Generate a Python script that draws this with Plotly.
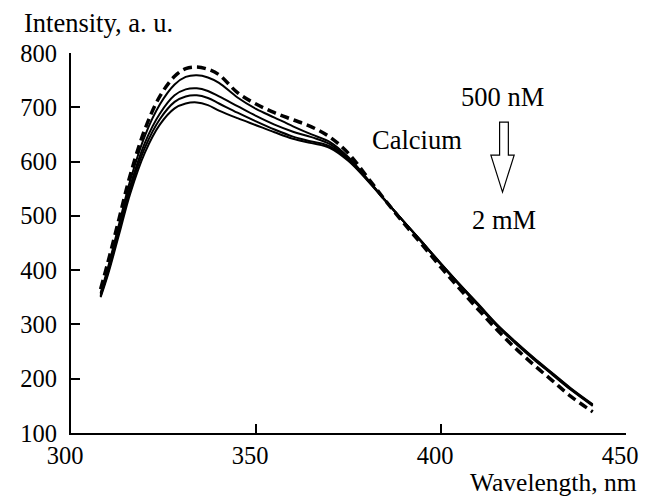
import plotly.graph_objects as go

wavelength = [308, 310, 313, 316, 320, 324, 328, 331, 334, 337, 340, 345, 350, 355, 360, 365,
              370, 375, 380, 385, 390, 395, 400, 405, 410, 415, 420, 425, 430, 435, 441]

control_dashed = [365, 415, 495, 575, 660, 720, 757, 771, 774, 770, 760, 727, 706, 690, 677, 664,
                  645, 615, 572, 528, 486, 446, 405, 366, 328, 291, 257, 226, 197, 168, 139]
ca_1 = [358, 405, 485, 565, 648, 705, 742, 756, 759, 755, 745, 718, 697, 681, 665, 650,
        636, 608, 569, 528, 489, 450, 410, 372, 335, 298, 266, 236, 208, 180, 150]
ca_2 = [355, 400, 478, 555, 635, 688, 722, 733, 735, 730, 720, 702, 684, 668, 655, 645,
        632, 605, 568, 528, 489, 450, 411, 373, 336, 299, 267, 237, 209, 181, 151]
ca_3 = [352, 396, 472, 548, 626, 678, 710, 720, 722, 717, 707, 690, 674, 659, 646, 637,
        628, 603, 567, 528, 489, 451, 412, 374, 337, 300, 268, 238, 210, 182, 152]
ca_4 = [350, 392, 466, 541, 617, 668, 698, 707, 709, 704, 694, 680, 667, 654, 642, 634,
        625, 601, 566, 527, 489, 451, 412, 374, 338, 301, 269, 239, 211, 183, 153]

x_ticks = [300, 350, 400, 450]
y_ticks = [100, 200, 300, 400, 500, 600, 700, 800]

FONT = "Liberation Serif, Times New Roman, serif"

fig = go.Figure()
for ys in [ca_1, ca_2, ca_3, ca_4]:
    fig.add_trace(go.Scatter(x=wavelength, y=ys, mode="lines", line=dict(color="black", width=2, shape="spline"),
                             showlegend=False, hoverinfo="skip"))
fig.add_trace(go.Scatter(x=wavelength, y=control_dashed, mode="lines",
                         line=dict(color="black", width=3.5, dash="9px,5px", shape="spline"),
                         showlegend=False, hoverinfo="skip"))

# page pixel -> data / paper helpers (plot area: x 61..632, y 53..433 on the page)
def px_x(p):
    return 300 + (p - 61) / 3.807

def px_y(p):
    return 100 + (433 - p) / 0.543

def pp_x(p):
    return (p - 61) / 571

def pp_y(p):
    return (433 - p) / 380

arrow_pts = [(502, 122), (511, 122), (511, 155), (517, 155), (505, 192), (493, 155), (502, 155)]
path = "M " + " L ".join(f"{px_x(a):.3f},{px_y(b):.3f}" for a, b in arrow_pts) + " Z"
fig.add_shape(type="path", path=path, xref="x", yref="y", line=dict(color="black", width=1.2),
              fillcolor="white")

fig.add_annotation(x=px_x(505), y=px_y(97), text="500 nM", showarrow=False, xref="x", yref="y",
                   font=dict(size=26.5, family=FONT, color="black"))
fig.add_annotation(x=px_x(417), y=px_y(140), text="Calcium", showarrow=False, xref="x", yref="y",
                   font=dict(size=26.5, family=FONT, color="black"))
fig.add_annotation(x=px_x(507), y=px_y(220), text="2 mM", showarrow=False, xref="x", yref="y",
                   font=dict(size=26.5, family=FONT, color="black"))
fig.add_annotation(x=pp_x(11), y=pp_y(23), xref="paper", yref="paper", xanchor="left", yanchor="middle",
                   text="Intensity, a. u.", showarrow=False, font=dict(size=26.5, family=FONT, color="black"))
fig.add_annotation(x=pp_x(645), y=pp_y(482), xref="paper", yref="paper", xanchor="right", yanchor="middle",
                   text="Wavelength, nm", showarrow=False, font=dict(size=25.5, family=FONT, color="black"))

fig.update_xaxes(range=[300, 450], tickvals=x_ticks, ticktext=[str(v) for v in x_ticks],
                 showgrid=False, zeroline=False, showline=True, linecolor="black", linewidth=2,
                 ticks="inside", ticklen=9, tickwidth=2, tickcolor="black", ticklabeloverflow="allow",
                 ticklabelshift=-6,
                 tickfont=dict(size=24.5, family=FONT, color="black"))
fig.update_yaxes(range=[100, 800], tickvals=y_ticks, ticktext=[str(v) for v in y_ticks],
                 showgrid=False, zeroline=False, showline=True, linecolor="black", linewidth=2,
                 ticks="inside", ticklen=9, tickwidth=2, tickcolor="black", ticklabelstandoff=7,
                 tickfont=dict(size=24.5, family=FONT, color="black"))

fig.update_layout(width=642, height=490, margin=dict(l=53, r=18, t=45, b=65),
                  paper_bgcolor="white", plot_bgcolor="white", showlegend=False)

fig.write_html("out.html")
